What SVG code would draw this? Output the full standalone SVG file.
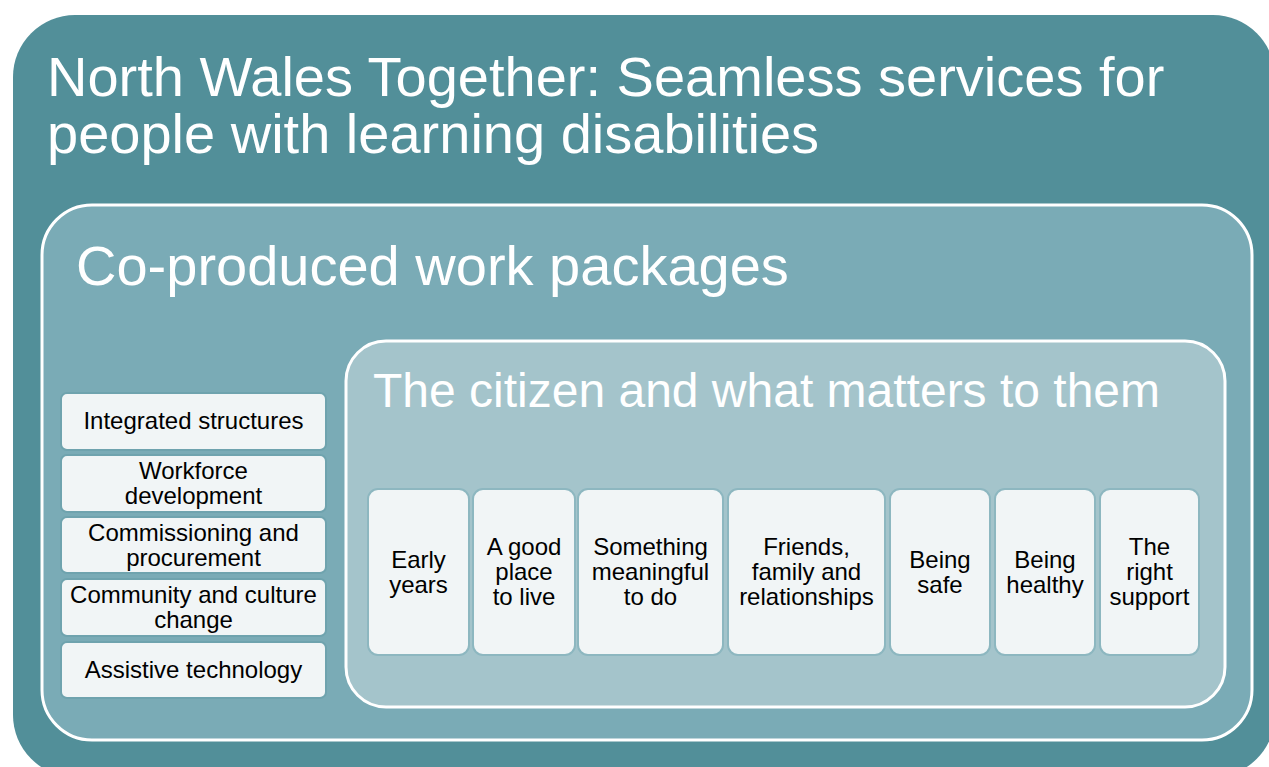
<svg xmlns="http://www.w3.org/2000/svg" width="1269" height="767" viewBox="0 0 1269 767">
<style>
.t{font-family:"Liberation Sans",Arial,sans-serif;fill:#fff}
.s{font-family:"Liberation Sans",Arial,sans-serif;font-size:24px;fill:#000;text-anchor:middle}
.lb{fill:#F1F5F6;stroke:#6FA3AE;stroke-width:2}
.rb{fill:#F1F5F6;stroke:#8DB7C0;stroke-width:2}
</style>
<rect width="1269" height="767" fill="#fff"/>
<g id="outer">
<rect x="13" y="15" width="1262" height="762" rx="62" fill="#528F99"/>
<text class="t" font-size="56" x="47" y="96">North Wales Together: Seamless services for</text>
<text class="t" font-size="56" x="47" y="153">people with learning disabilities</text>
</g>
<g id="workpackages">
<rect x="42" y="205" width="1210" height="535" rx="50" fill="#7AABB6" stroke="#fff" stroke-width="3"/>
<text class="t" font-size="56" x="76" y="285">Co-produced work packages</text>
</g>
<g id="citizen">
<rect x="346" y="341" width="879" height="366" rx="40" fill="#A4C4CB" stroke="#fff" stroke-width="3"/>
<text class="t" font-size="48" x="373" y="407">The citizen and what matters to them</text>
</g>
<g id="wp1"><rect class="lb" x="61" y="393" width="265" height="57" rx="6"/><text class="s" x="193.5" y="429">Integrated structures</text></g>
<g id="wp2"><rect class="lb" x="61" y="455" width="265" height="57" rx="6"/><text class="s" x="193.5" y="479">Workforce</text><text class="s" x="193.5" y="504">development</text></g>
<g id="wp3"><rect class="lb" x="61" y="517" width="265" height="56" rx="6"/><text class="s" x="193.5" y="541">Commissioning and</text><text class="s" x="193.5" y="566">procurement</text></g>
<g id="wp4"><rect class="lb" x="61" y="579" width="265" height="57" rx="6"/><text class="s" x="193.5" y="603">Community and culture</text><text class="s" x="193.5" y="628">change</text></g>
<g id="wp5"><rect class="lb" x="61" y="642" width="265" height="56" rx="6"/><text class="s" x="193.5" y="678">Assistive technology</text></g>
<g id="c1"><rect class="rb" x="368" y="489" width="101" height="166" rx="10"/><text class="s" x="418.5" y="568">Early</text><text class="s" x="418.5" y="593">years</text></g>
<g id="c2"><rect class="rb" x="473" y="489" width="102" height="166" rx="10"/><text class="s" x="524" y="555">A good</text><text class="s" x="524" y="580">place</text><text class="s" x="524" y="605">to live</text></g>
<g id="c3"><rect class="rb" x="578" y="489" width="145" height="166" rx="10"/><text class="s" x="650.5" y="555">Something</text><text class="s" x="650.5" y="580">meaningful</text><text class="s" x="650.5" y="605">to do</text></g>
<g id="c4"><rect class="rb" x="728" y="489" width="157" height="166" rx="10"/><text class="s" x="806.5" y="555">Friends,</text><text class="s" x="806.5" y="580">family and</text><text class="s" x="806.5" y="605">relationships</text></g>
<g id="c5"><rect class="rb" x="890" y="489" width="100" height="166" rx="10"/><text class="s" x="940" y="568">Being</text><text class="s" x="940" y="593">safe</text></g>
<g id="c6"><rect class="rb" x="995" y="489" width="100" height="166" rx="10"/><text class="s" x="1045" y="568">Being</text><text class="s" x="1045" y="593">healthy</text></g>
<g id="c7"><rect class="rb" x="1100" y="489" width="99" height="166" rx="10"/><text class="s" x="1149.5" y="555">The</text><text class="s" x="1149.5" y="580">right</text><text class="s" x="1149.5" y="605">support</text></g>
<g id="connectors"></g>
</svg>
